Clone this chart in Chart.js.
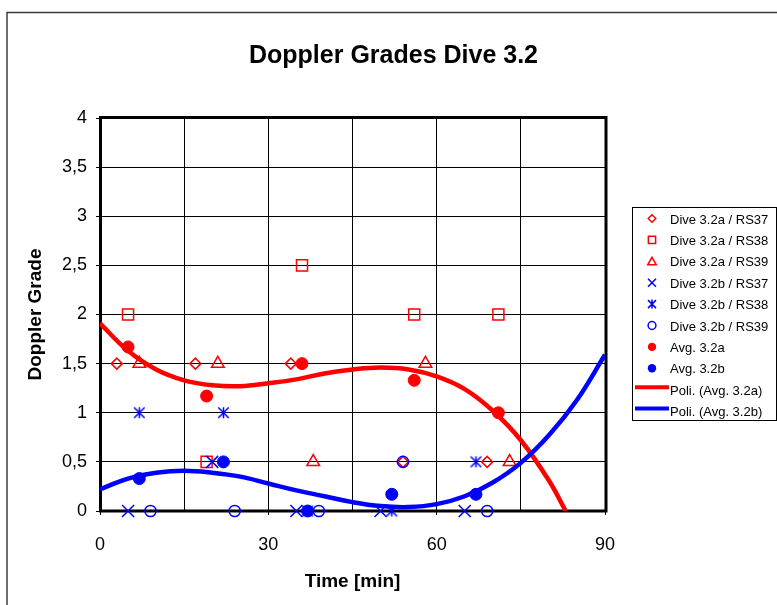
<!DOCTYPE html>
<html>
<head>
<meta charset="utf-8">
<script src="https://cdn.jsdelivr.net/npm/chart.js@4.4.0/dist/chart.umd.min.js"></script>
<style>
html,body{margin:0;padding:0;background:#fff;}
#wrap{position:relative;width:777px;height:605px;}
canvas{display:block;}
</style>
</head>
<body>
<div id="wrap"><canvas id="c" width="777" height="605"></canvas></div>
<script>
// ---------- data ----------
const chartTitle = 'Doppler Grades Dive 3.2';
const xTitle = 'Time [min]';
const yTitle = 'Doppler Grade';
const xTickLabels = [0, 30, 60, 90];
const yTickLabels = ['0', '0,5', '1', '1,5', '2', '2,5', '3', '3,5', '4'];

const seriesLabels = [
  'Dive 3.2a / RS37', 'Dive 3.2a / RS38', 'Dive 3.2a / RS39',
  'Dive 3.2b / RS37', 'Dive 3.2b / RS38', 'Dive 3.2b / RS39',
  'Avg. 3.2a', 'Avg. 3.2b',
  'Poli. (Avg. 3.2a)', 'Poli. (Avg. 3.2b)'
];

const a37Time = [3, 17, 34, 54, 69];
const a37Grade = [1.5, 1.5, 1.5, 0.5, 0.5];
const a38Time = [5, 19, 36, 56, 71];
const a38Grade = [2, 0.5, 2.5, 2, 2];
const a39Time = [7, 21, 38, 58, 73];
const a39Grade = [1.5, 1.5, 0.5, 1.5, 0.5];

const b37Time = [5, 20, 35, 50, 65];
const b37Grade = [0, 0.5, 0, 0, 0];
const b38Time = [7, 22, 37, 52, 67];
const b38Grade = [1, 1, 0, 0, 0.5];
const b39Time = [9, 24, 39, 54, 69];
const b39Grade = [0, 0, 0, 0.5, 0];

const avgATime = [5, 19, 36, 56, 71];
const avgAGrade = [1.67, 1.17, 1.5, 1.33, 1.0];
const avgBTime = [7, 22, 37, 52, 67];
const avgBGrade = [0.33, 0.5, 0, 0.17, 0.17];

// trend curves
const polyATime = [0, 5, 10, 15, 20, 25, 30, 35, 40, 45, 50, 55, 60, 65, 70, 75, 80, 83];
const polyAGrade = [1.91, 1.63, 1.44, 1.33, 1.28, 1.27, 1.30, 1.34, 1.40, 1.44, 1.46, 1.44, 1.37, 1.24, 1.02, 0.72, 0.31, 0];
const polyBTime = [0, 5, 10, 15, 20, 25, 30, 35, 40, 45, 50, 55, 60, 65, 70, 75, 80, 85, 90];
const polyBGrade = [0.22, 0.33, 0.39, 0.41, 0.39, 0.35, 0.28, 0.21, 0.15, 0.09, 0.05, 0.04, 0.07, 0.15, 0.29, 0.49, 0.77, 1.13, 1.59];

// ---------- helpers ----------
const RED = '#ff0000', BLUE = '#0000ff';
const FAMILY = "'Liberation Sans', Arial, Helvetica, sans-serif";
Chart.defaults.font.family = FAMILY;
Chart.defaults.color = '#000';

function pts(xs, ys) { return xs.map((x, i) => ({ x: x, y: ys[i] })); }

function makeAsterisk(size, color, lw) {
  const c = document.createElement('canvas');
  c.width = size; c.height = size;
  const g = c.getContext('2d');
  g.strokeStyle = color; g.lineWidth = lw;
  const m = lw / 2 + 0.5, e = size - m, h = size / 2;
  g.beginPath();
  g.moveTo(m, m); g.lineTo(e, e);
  g.moveTo(e, m); g.lineTo(m, e);
  g.moveTo(h, m - 0.3); g.lineTo(h, e + 0.3);
  g.stroke();
  return c;
}
const asteriskImg = makeAsterisk(13, BLUE, 1.5);

const markerKinds = ['diamond', 'square', 'triangle', 'x', 'asterisk', 'circle', 'dot', 'dot', 'line', 'line'];
const markerColors = [RED, RED, RED, BLUE, BLUE, BLUE, RED, BLUE, RED, BLUE];

function markerDS(i, data, style, radius, filled) {
  return {
    label: seriesLabels[i],
    data: data,
    showLine: false,
    clip: false,
    pointStyle: style,
    pointRadius: radius,
    pointHoverRadius: radius,
    pointBorderWidth: filled ? 1 : 1.5,
    pointBorderColor: markerColors[i],
    pointBackgroundColor: filled ? markerColors[i] : 'rgba(0,0,0,0)',
    borderColor: markerColors[i],
    backgroundColor: filled ? markerColors[i] : 'rgba(0,0,0,0)',
    order: 20 - i
  };
}
function lineDS(i, data) {
  return {
    label: seriesLabels[i],
    data: data,
    showLine: true,
    pointRadius: 0,
    pointHoverRadius: 0,
    borderColor: markerColors[i],
    backgroundColor: markerColors[i],
    borderWidth: 4.5,
    tension: 0.4,
    fill: false,
    order: 20 - i
  };
}

const datasets = [
  markerDS(0, pts(a37Time, a37Grade), 'rectRot', 5.5, false),
  markerDS(1, pts(a38Time, a38Grade), 'rect', 7.8, false),
  markerDS(2, pts(a39Time, a39Grade), 'triangle', 7.3, false),
  markerDS(3, pts(b37Time, b37Grade), 'crossRot', 8.5, false),
  markerDS(4, pts(b38Time, b38Grade), asteriskImg, 6.5, false),
  markerDS(5, pts(b39Time, b39Grade), 'circle', 5.6, false),
  markerDS(6, pts(avgATime, avgAGrade), 'circle', 6, true),
  markerDS(7, pts(avgBTime, avgBGrade), 'circle', 6, true),
  lineDS(8, pts(polyATime, polyAGrade)),
  lineDS(9, pts(polyBTime, polyBGrade))
];

function drawLegendMarker(ctx, kind, x, y, color) {
  ctx.save();
  ctx.strokeStyle = color; ctx.fillStyle = color; ctx.lineWidth = 1.5;
  ctx.beginPath();
  if (kind === 'diamond') {
    const s = 3.8;
    ctx.moveTo(x, y - s); ctx.lineTo(x + s, y); ctx.lineTo(x, y + s); ctx.lineTo(x - s, y); ctx.closePath(); ctx.stroke();
  } else if (kind === 'square') {
    const s = 3.6;
    ctx.rect(x - s, y - s, 2 * s, 2 * s); ctx.stroke();
  } else if (kind === 'triangle') {
    ctx.moveTo(x, y - 4); ctx.lineTo(x + 4.3, y + 3.5); ctx.lineTo(x - 4.3, y + 3.5); ctx.closePath(); ctx.stroke();
  } else if (kind === 'x') {
    const s = 4;
    ctx.moveTo(x - s, y - s); ctx.lineTo(x + s, y + s); ctx.moveTo(x + s, y - s); ctx.lineTo(x - s, y + s); ctx.stroke();
  } else if (kind === 'asterisk') {
    const s = 4;
    ctx.moveTo(x - s, y - s); ctx.lineTo(x + s, y + s); ctx.moveTo(x + s, y - s); ctx.lineTo(x - s, y + s);
    ctx.moveTo(x, y - s - 0.5); ctx.lineTo(x, y + s + 0.5); ctx.stroke();
  } else if (kind === 'circle') {
    ctx.arc(x, y, 3.9, 0, Math.PI * 2); ctx.stroke();
  } else if (kind === 'dot') {
    ctx.arc(x, y, 4.2, 0, Math.PI * 2); ctx.fill();
  } else if (kind === 'line') {
    ctx.lineWidth = 4;
    ctx.moveTo(635, y); ctx.lineTo(669, y); ctx.stroke();
  }
  ctx.restore();
}

const decor = {
  id: 'decor',
  beforeDraw(chart) {
    const ctx = chart.ctx;
    ctx.save();
    ctx.strokeStyle = '#3c3c3c';
    ctx.lineWidth = 1.5;
    ctx.strokeRect(7, 12.5, 900, 800);
    ctx.restore();
  },
  beforeDatasetsDraw(chart) {
    const a = chart.chartArea, ctx = chart.ctx;
    ctx.save();
    ctx.strokeStyle = '#000';
    ctx.lineWidth = 3;
    ctx.strokeRect(a.left + 0.5, a.top - 0.5, a.right - a.left + 0.5, a.bottom - a.top + 0.5);
    ctx.restore();
  },
  afterDraw(chart) {
    const ctx = chart.ctx;
    ctx.save();
    // title
    ctx.fillStyle = '#000';
    ctx.font = 'bold 25px ' + FAMILY;
    ctx.textAlign = 'center';
    ctx.textBaseline = 'alphabetic';
    ctx.fillText(chartTitle, 393.5, 63.3);
    // legend box
    ctx.strokeStyle = '#000';
    ctx.lineWidth = 1;
    ctx.strokeRect(632.5, 207.5, 144, 213);
    ctx.font = '13px ' + FAMILY;
    ctx.textAlign = 'left';
    ctx.textBaseline = 'middle';
    chart.data.datasets.forEach((ds, i) => {
      const y = 218.5 + 21.4 * i;
      const kind = markerKinds[i];
      if (kind === 'line') {
        drawLegendMarker(ctx, kind, 652, y - 2.5, markerColors[i]);
      } else {
        drawLegendMarker(ctx, kind, 652, y, markerColors[i]);
      }
      ctx.fillStyle = '#000';
      ctx.fillText(ds.label, 670, y + 1.5);
    });
    ctx.restore();
  }
};

new Chart(document.getElementById('c'), {
  type: 'scatter',
  data: { datasets: datasets },
  plugins: [decor],
  options: {
    responsive: false,
    animation: false,
    events: [],
    layout: { padding: { left: 0, top: 118, right: 172, bottom: 0 } },
    plugins: {
      legend: { display: false },
      title: { display: false },
      tooltip: { enabled: false }
    },
    scales: {
      x: {
        type: 'linear',
        min: 0, max: 90,
        afterFit(scale) { scale.height = 94; },
        ticks: {
          stepSize: 15,
          autoSkip: false,
          maxRotation: 0,
          padding: 19,
          font: { size: 18 },
          color: '#000',
          callback: (v) => xTickLabels.includes(v) ? String(v) : ''
        },
        grid: {
          color: '#000',
          lineWidth: 1,
          tickLength: 4,
          tickColor: (c) => (c.tick && xTickLabels.includes(c.tick.value)) ? '#000' : 'rgba(0,0,0,0)'
        },
        border: { display: false },
        title: {
          display: true,
          text: xTitle,
          font: { size: 19, weight: 'bold' },
          color: '#000',
          padding: { top: 0, bottom: 12 }
        }
      },
      y: {
        type: 'linear',
        min: 0, max: 4,
        afterFit(scale) { scale.width = 100; },
        ticks: {
          stepSize: 0.5,
          autoSkip: false,
          padding: 9,
          font: { size: 18 },
          color: '#000',
          callback: (v) => { const k = Math.round(v * 2); return yTickLabels[k] !== undefined ? yTickLabels[k] : ''; }
        },
        grid: { color: '#000', lineWidth: 1, tickLength: 4, tickColor: '#000' },
        border: { display: false },
        title: {
          display: true,
          text: yTitle,
          font: { size: 19, weight: 'bold' },
          color: '#000',
          padding: { top: 24.5, bottom: 0 }
        }
      }
    }
  }
});
</script>
</body>
</html>
